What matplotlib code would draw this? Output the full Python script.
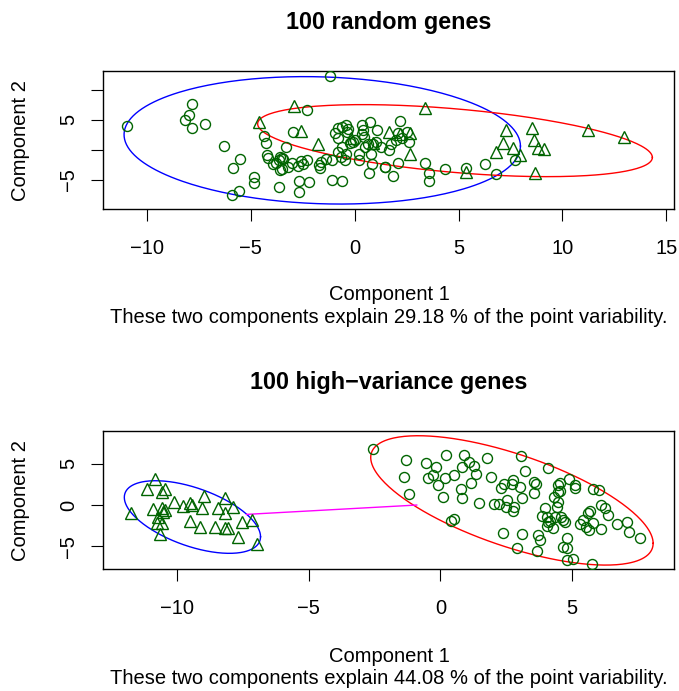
import numpy as np
import matplotlib
matplotlib.use("Agg")
import matplotlib.pyplot as plt

plt.rcParams['font.family'] = ['Liberation Sans', 'DejaVu Sans']

# ---- panel 1: 100 random genes ----
rand_circ_x = [-1.17, -10.98, -7.84, -7.98, -8.17, -7.82, -7.18, -2.29, -6.3, -5.53,
               -5.85, -4.84, -4.84, -5.56, -5.88, -4.34, -4.25, -3.32, -4.21, -4.17,
               -3.93, -3.6, -3.5, -3.45, -3.65, -3.8, -3.6, -3.5, -3.64, -2.96,
               -2.68, -2.68, -2.21, -3.2, -3.0, -2.6, -2.3, -2.5, -2.75, -1.7,
               -1.6, -1.65, -1.4, -1.1, -1.07, -0.6,
               -0.94, -0.79, -0.63, -0.42, -0.38, -0.31, -0.79, -0.63, -0.81, -0.42,
               -0.48, -0.65, -0.21, -0.1, 0.0, 0.33, 0.42, 0.37, 0.46, 0.73,
               1.08, 0.88, 0.79, 0.83, 0.67, 0.21, 0.52, 1.25, 1.46, 1.83,
               1.67, 1.98, 2.19, 2.08, 2.29, 2.6, 2.5, 2.08, 0.21, 0.63, 1.04, 1.77,
               3.4, 3.6, 3.6, 4.33, 5.35, 6.29, 6.79, 7.71, 1.44]
rand_circ_y = [12.3, 4.0, 7.7, 5.74, 4.96, 3.68, 4.35, 6.63, 0.62, -1.5,
               -3.12, -4.5, -5.5, -6.9, -7.56, 2.34, 1.06, 0.5, -0.9, -1.45,
               -2.4, -1.2, -1.4, -1.6, -1.7, -2.3, -3.4, -3.2, -6.3, 2.9,
               -5.2, -7.0, -5.35, -2.9, -2.3, -1.9, -1.7, -2.4, -2.8, -2.6,
               -2.0, -3.0, -1.6, -1.7, -5.0, -5.15,
               2.79, 3.56, 3.78, 4.12, 2.96, 3.5, 1.9, 0.47, -0.36, -0.64,
               -1.74, -1.19, 1.13, 1.3, 1.57, 4.17, 3.34, 2.68, 2.13, 4.61,
               3.23, 1.02, -0.64, -2.46, -3.95, -1.74, 0.47, 0.47, -2.85, -4.39,
               -0.08, 1.57, 4.78, 2.79, 2.02, 1.3, 2.96, -2.29, -0.64, 1.02, 1.3, 1.02,
               -2.29, -3.95, -5.2, -3.3, -3.0, -2.35, -4.06, -1.68, -2.84]
rand_tri_x = [-4.6, -2.93, -2.58, -1.76, -0.2, 0.9, 1.65, 2.19, 2.64, 2.68,
              3.41, 5.34, 6.81, 7.13, 7.29, 7.61, 7.96, 8.54, 8.61, 8.81,
              9.13, 8.7, 11.22, 12.95]
rand_tri_y = [4.68, 7.3, 3.19, 0.95, 2.0, 1.1, 3.0, 2.7, 2.73, -0.72,
              7.03, -3.68, -0.33, 1.06, 3.29, 0.23, -0.9, 3.56, 1.62, 0.23,
              0.06, -3.96, 3.29, 2.18]
# ellipse: centre x, centre y, half-width, half-height, phase
rand_ell_blue = [-1.56, 1.57, 9.54, 10.65, -0.09]
rand_ell_red = [4.83, 1.52, 9.5, 6.02, -0.485]
rand_var = 29.18

# ---- panel 2: 100 high-variance genes ----
hv_tri_x = [-11.78, -10.86, -11.15, -10.6, -10.47, -10.92, -10.6, -10.54, -10.47, -10.73,
            -10.79, -10.6, -10.66, -10.13, -9.77, -9.52, -9.46, -9.52, -9.14, -9.08,
            -8.99, -8.45, -8.2, -8.2, -7.88, -8.58, -8.2, -8.07, -7.69, -7.56,
            -7.15, -6.96]
hv_tri_y = [-0.93, 3.1, 1.94, 1.6, 1.94, -0.52, -0.4, -0.8, -0.6, -1.41,
            -2.2, -2.2, -3.55, 0.4, -0.12, 0.2, 0.0, -1.9, -2.62, -0.4,
            1.09, -0.4, 0.81, -1.0, -0.2, -2.62, -2.82, -2.82, -3.83, -2.02,
            -1.81, -4.72]
hv_circ_x = [-2.55, -1.29, -1.37, -1.18, -0.53, -0.17, -0.27, -0.46, -0.08, 0.21,
             0.17, 0.53, 0.11, 0.89, 1.1, 0.84, 1.29, 1.35, 1.18, 0.8,
             0.84, 1.48, 0.39, 0.51, 1.78, 1.91, 2.03, 2.23, 2.29, 2.42,
             2.52, 2.49, 2.71, 2.77, 3.02, 2.8, 2.77, 3.11, 2.39, 3.11,
             3.05, 3.2, 3.56, 3.63, 3.56, 2.92, 3.72, 3.78, 3.68, 4.1,
             3.97, 3.88, 4.04, 4.1, 4.16, 4.04, 4.35, 4.42, 4.48, 4.33,
             4.48, 4.54, 4.48, 4.54, 4.58, 4.67, 4.73, 4.27, 4.8, 4.65,
             4.82, 4.82, 5.05, 4.9, 5.11, 5.11, 5.75, 5.31, 5.41, 5.53,
             5.62, 5.68, 5.81, 6.09, 5.66, 5.81, 6.04, 6.09, 6.25, 6.38,
             6.7, 7.08, 7.18, 7.58]
hv_circ_y = [6.77, 5.44, 3.43, 1.33, 5.04, 4.56, 3.63, 3.23, 2.42, 6.05,
             3.23, 3.63, 0.93, 6.05, 5.24, 4.64, 4.72, 3.75, 2.62, 1.94,
             0.81, 0.2, -1.9, -1.73, 5.73, 3.43, 0.08, 0.12, 2.02, 2.54,
             0.6, -0.28, 2.54, 3.02, 2.22, -0.2, -0.69, 0.89, -3.43, -3.51,
             5.93, 4.15, 2.74, 2.54, 1.41, -5.24, -3.63, -4.23, -5.52, 4.44,
             -0.4, -1.33, -1.49, -2.02, -1.9, -2.54, -1.41, -0.2, 0.4, 1.01,
             1.61, 1.73, 2.42, 2.7, -1.49, -1.81, -2.02, -2.82, -4.03, -5.12,
             -5.24, -6.65, -6.57, 3.1, 2.42, 2.02, -7.14, -2.3, -1.81, -2.7,
             -0.93, -0.69, -2.22, -2.94, -3.02, 1.9, 1.81, 0.0, -0.4, -1.21,
             -2.3, -2.02, -3.23, -4.03]
hv_ell_blue = [-9.43, -1.45, 2.59, 4.39, -0.573]
hv_ell_red = [2.72, 0.56, 5.37, 7.82, -0.726]
hv_link_x = [-7.37, -0.9]
hv_link_y = [-1.13, 0.0]
hv_var = 44.08

GREEN = '#006400'
FS = 14.5


def ellipse(ax, e, color):
    t = np.linspace(0, 2 * np.pi, 300)
    ax.plot(e[0] + e[2] * np.cos(t), e[1] + e[3] * np.sin(t + e[4]),
            color=color, lw=1.0, zorder=2)


def panel(ax, cx, cy, tx, ty, eb, er, xlim, ylim, yticks, ylabs):
    ax.plot(cx, cy, 'o', ms=7.2, mfc='none', mec=GREEN, mew=1.0, zorder=3)
    ax.plot(tx, ty, '^', ms=8.2, mfc='none', mec=GREEN, mew=1.0, zorder=3)
    ellipse(ax, eb, 'blue')
    ellipse(ax, er, 'red')
    ax.set_xlim(xlim)
    ax.set_ylim(ylim)
    ax.set_yticks(yticks)
    ax.set_yticklabels(ylabs, rotation=90, va='center')
    ax.tick_params(length=8.6, width=0.8, labelsize=FS, direction='out')
    ax.tick_params(axis='x', pad=12.5)
    ax.tick_params(axis='y', pad=9.5)
    for s in ax.spines.values():
        s.set_linewidth(1.0)


fig = plt.figure(figsize=(6.79, 6.91), dpi=100)

ax1 = fig.add_axes([0.1521, 0.697, 0.8408, 0.2006])
panel(ax1, rand_circ_x, rand_circ_y, rand_tri_x, rand_tri_y,
      rand_ell_blue, rand_ell_red, (-12.1, 15.38), (-9.97, 13.2),
      [-5, 0, 5, 10], ['\u22125', '', '5', ''])
ax1.set_xticks([-10, -5, 0, 5, 10, 15])
ax1.set_xticklabels(['\u221210', '\u22125', '0', '5', '10', '15'])
fig.text(0.573, 0.967, '100 random genes', ha='center', va='center',
         fontsize=16.8, fontweight='bold')
fig.text(0.030, 0.797, 'Component 2', ha='center', va='center',
         rotation=90, fontsize=FS)
fig.text(0.573, 0.5745, 'Component 1', ha='center', va='center', fontsize=FS)
fig.text(0.573, 0.5398,
         'These two components explain %.2f %% of the point variability.' % rand_var,
         ha='center', va='center', fontsize=FS)

ax2 = fig.add_axes([0.1521, 0.176, 0.8408, 0.2006])
panel(ax2, hv_circ_x, hv_circ_y, hv_tri_x, hv_tri_y,
      hv_ell_blue, hv_ell_red, (-12.82, 8.89), (-7.78, 8.98),
      [-5, 0, 5], ['\u22125', '0', '5'])
ax2.plot(hv_link_x, hv_link_y, color='magenta', lw=1.0, zorder=2)
ax2.set_xticks([-10, -5, 0, 5])
ax2.set_xticklabels(['\u221210', '\u22125', '0', '5'])
fig.text(0.573, 0.447, '100 high\u2212variance genes', ha='center', va='center',
         fontsize=16.8, fontweight='bold')
fig.text(0.030, 0.276, 'Component 2', ha='center', va='center',
         rotation=90, fontsize=FS)
fig.text(0.573, 0.0506, 'Component 1', ha='center', va='center', fontsize=FS)
fig.text(0.573, 0.0188,
         'These two components explain %.2f %% of the point variability.' % hv_var,
         ha='center', va='center', fontsize=FS)

fig.savefig('out.png', dpi=100)
